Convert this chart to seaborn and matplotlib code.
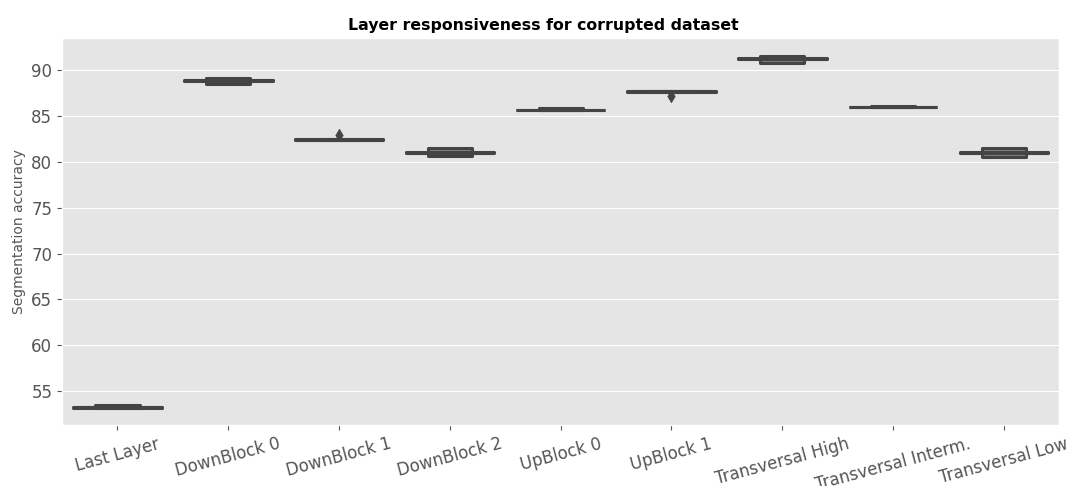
import numpy as np
import pandas as pd
import matplotlib
matplotlib.use("Agg")
import matplotlib.pyplot as plt
import seaborn as sns

# layers probed
layers = ["Last Layer", "DownBlock 0", "DownBlock 1", "DownBlock 2", "UpBlock 0",
          "UpBlock 1", "Transversal High", "Transversal Interm.", "Transversal Low"]

# segmentation accuracy of the runs for each layer
last_layer = [53.20, 53.20, 53.20, 53.21, 53.22, 53.23, 53.25, 53.48, 53.48]
down_0 = [88.55, 88.55, 88.88, 88.90, 88.92, 88.93, 88.95, 89.18, 89.18]
down_1 = [82.40, 82.40, 82.42, 82.43, 82.44, 82.45, 82.46, 82.50, 83.00]
down_2 = [80.62, 80.62, 81.00, 81.01, 81.02, 81.03, 81.05, 81.48, 81.48]
up_0 = [85.66, 85.66, 85.67, 85.67, 85.68, 85.69, 85.70, 85.90, 85.90]
up_1 = [87.20, 87.66, 87.68, 87.69, 87.70, 87.71, 87.72, 87.75, 87.75]
trans_high = [90.85, 90.85, 91.25, 91.27, 91.28, 91.29, 91.30, 91.62, 91.62]
trans_interm = [85.99, 85.99, 86.02, 86.03, 86.03, 86.04, 86.04, 86.06, 86.06]
trans_low = [80.55, 80.55, 81.00, 81.01, 81.02, 81.03, 81.05, 81.55, 81.55]

df = pd.DataFrame({
    layers[0]: last_layer, layers[1]: down_0, layers[2]: down_1,
    layers[3]: down_2, layers[4]: up_0, layers[5]: up_1,
    layers[6]: trans_high, layers[7]: trans_interm, layers[8]: trans_low,
})

plt.style.use("ggplot")
fig, ax = plt.subplots(figsize=(10.7, 4.86), dpi=100)

sns.boxenplot(data=df, color="#666666", saturation=1, k_depth=2, ax=ax,
              linewidth=2.2, linecolor="#444444",
              line_kws=dict(linewidth=2.2, color="#444444"),
              flier_kws=dict(marker="d", s=40, facecolor="#444444", edgecolor="#444444"))

ax.set_title("Layer responsiveness for corrupted dataset", fontsize=11.3,
             fontweight="bold", x=0.483)
ax.set_ylabel("Segmentation accuracy", fontsize=10)
ax.tick_params(axis="both", labelsize=12)
plt.xticks(rotation=15)

plt.subplots_adjust(left=0.058, right=0.99, top=0.922, bottom=0.125)
plt.savefig("out.png", dpi=100)
